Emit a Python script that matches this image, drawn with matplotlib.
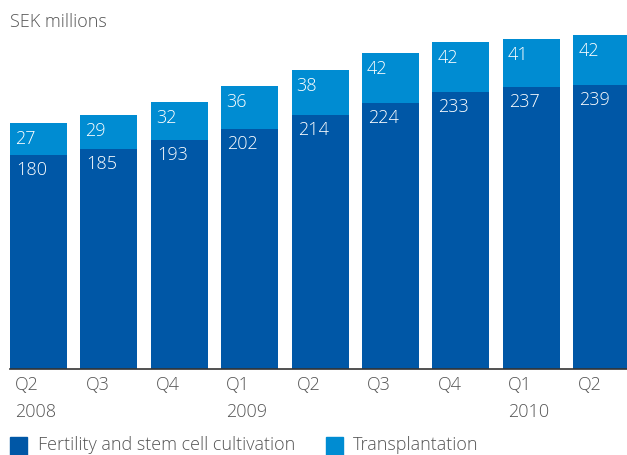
import matplotlib.pyplot as plt
from matplotlib.patches import Rectangle

plt.rcParams['font.family'] = ['Open Sans', 'DejaVu Sans']
plt.rcParams['font.weight'] = 'light'

quarters = ['Q2', 'Q3', 'Q4', 'Q1', 'Q2', 'Q3', 'Q4', 'Q1', 'Q2']
years = ['2008', '', '', '2009', '', '', '', '2010', '']
fertility = [180, 185, 193, 202, 214, 224, 233, 237, 239]
transplantation = [27, 29, 32, 36, 38, 42, 42, 41, 42]

DARK = '#0057a6'
LIGHT = '#008cd2'
GREY = '#555555'

W, H = 627, 455
fig = plt.figure(figsize=(W / 100, H / 100), dpi=100)
ax = fig.add_axes([10 / W, 86 / H, 617 / W, 369 / H])

x = list(range(len(quarters)))
bw = 0.81
ax.bar(x, fertility, width=bw, align='edge', color=DARK)
ax.bar(x, transplantation, width=bw, bottom=fertility, align='edge', color=LIGHT)

ax.set_xlim(0, 617 / 70.4)
ax.set_ylim(0, 369 / 1.188)
for s in ['top', 'right', 'left']:
    ax.spines[s].set_visible(False)
ax.spines['bottom'].set_color('#333333')
ax.spines['bottom'].set_linewidth(1.2)
ax.set_xticks([])
ax.set_yticks([])

for i in x:
    f, t = fertility[i], transplantation[i]
    ax.annotate(str(f), (i, f), xytext=(6, -15), textcoords='offset pixels',
                color='white', fontsize=13, ha='left', va='center')
    ax.annotate(str(t), (i, f + t), xytext=(5, -16), textcoords='offset pixels',
                color='white', fontsize=13, ha='left', va='center')
    ax.annotate(quarters[i], (i, 0), xycoords=('data', 'axes fraction'),
                xytext=(5, -16), textcoords='offset pixels',
                color=GREY, fontsize=13, ha='left', va='center')
    if years[i]:
        ax.annotate(years[i], (i, 0), xycoords=('data', 'axes fraction'),
                    xytext=(5, -43), textcoords='offset pixels',
                    color=GREY, fontsize=13, ha='left', va='center')

fig.text(10 / W, 1 - 22 / H, 'SEK millions', color=GREY, fontsize=13,
         ha='left', va='center')

fig.patches.append(Rectangle((10 / W, 0), 17 / W, 18 / H, transform=fig.transFigure,
                             color=DARK))
fig.text(38 / W, 1 - 445 / H, 'Fertility and stem cell cultivation', color=GREY,
         fontsize=13, ha='left', va='center')
fig.patches.append(Rectangle((326 / W, 0), 17 / W, 18 / H, transform=fig.transFigure,
                             color=LIGHT))
fig.text(353 / W, 1 - 445 / H, 'Transplantation', color=GREY,
         fontsize=13, ha='left', va='center')

fig.savefig('out.png', dpi=100)
